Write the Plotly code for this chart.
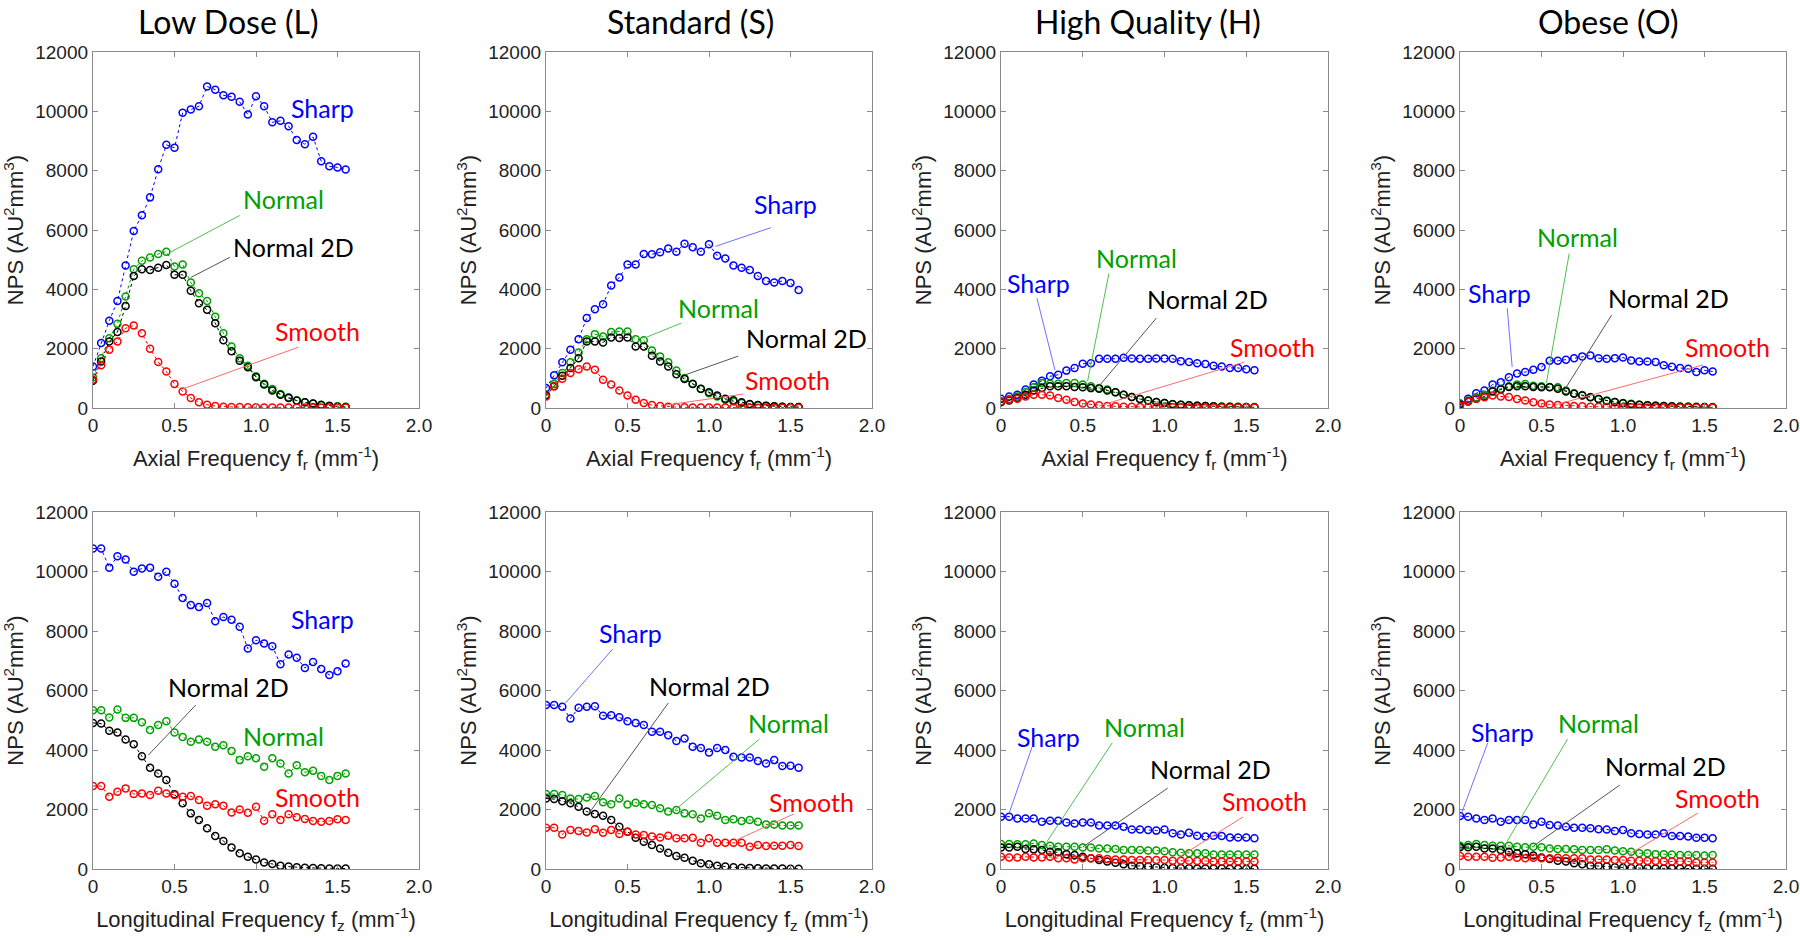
import plotly.graph_objects as go
from plotly.subplots import make_subplots

# frequency samples (mm^-1), shared by every panel
freq = [0.0, 0.05, 0.1, 0.15, 0.2, 0.25, 0.3, 0.35, 0.4, 0.45, 0.5, 0.55, 0.6, 0.65, 0.7, 0.75,
        0.8, 0.85, 0.9, 0.95, 1.0, 1.05, 1.1, 1.15, 1.2, 1.25, 1.3, 1.35, 1.4, 1.45, 1.5, 1.55]

protocols = ["Low Dose (L)", "Standard (S)", "High Quality (H)", "Obese (O)"]
kernels = ["Sharp", "Normal", "Normal 2D", "Smooth"]

# ---- axial NPS (top row) ----
ld_ax_sharp = [1400, 2190, 2940, 3610, 4800, 5970, 6500, 7100, 8050, 8870, 8770, 9950, 10060, 10170, 10840, 10730,
               10540, 10490, 10320, 9890, 10510, 10170, 9630, 9680, 9500, 9030, 8890, 9140, 8320, 8150, 8110, 8040]
ld_ax_normal = [1030, 1680, 2350, 2840, 3760, 4680, 4960, 5070, 5190, 5270, 4770, 4840, 4230, 3870, 3610, 3080,
                2520, 2070, 1680, 1420, 1070, 820, 640, 470, 360, 250, 190, 150, 110, 80, 60, 45]
ld_ax_normal2d = [920, 1570, 2240, 2560, 3440, 4450, 4680, 4650, 4730, 4820, 4490, 4490, 3950, 3530, 3310, 2860,
                  2280, 1910, 1590, 1370, 1040, 790, 590, 450, 340, 250, 190, 150, 100, 70, 45, 35]
ld_ax_smooth = [950, 1440, 1960, 2240, 2690, 2780, 2520, 2000, 1550, 1230, 810, 560, 340, 190, 110, 70,
                45, 35, 30, 25, 25, 20, 20, 20, 20, 20, 15, 15, 15, 15, 15, 15]

st_ax_sharp = [670, 1100, 1540, 1960, 2320, 3030, 3330, 3500, 4130, 4400, 4840, 4840, 5190, 5180, 5250, 5380,
               5270, 5540, 5420, 5270, 5520, 5130, 5040, 4800, 4730, 4650, 4450, 4280, 4230, 4280, 4210, 3980]
st_ax_normal = [450, 810, 1180, 1540, 1870, 2320, 2490, 2410, 2560, 2580, 2580, 2320, 2280, 1940, 1740, 1540,
                1260, 1010, 820, 640, 500, 390, 280, 220, 170, 120, 90, 70, 55, 45, 35, 30]
st_ax_normal2d = [420, 730, 1090, 1350, 1680, 2240, 2240, 2210, 2380, 2360, 2380, 2070, 2070, 1760, 1570, 1400,
                  1140, 980, 810, 650, 530, 420, 310, 260, 190, 135, 100, 80, 55, 45, 35, 30]
st_ax_smooth = [390, 730, 990, 1180, 1310, 1400, 1290, 950, 790, 590, 420, 280, 170, 100, 70, 45,
                30, 25, 20, 20, 15, 15, 15, 15, 10, 10, 10, 10, 10, 10, 10, 10]

hq_ax_sharp = [310, 390, 450, 620, 790, 920, 1070, 1120, 1260, 1350, 1490, 1510, 1660, 1660, 1660, 1690,
               1670, 1660, 1660, 1670, 1670, 1660, 1580, 1550, 1510, 1480, 1420, 1400, 1350, 1350, 1310, 1270]
hq_ax_normal = [220, 300, 390, 540, 700, 840, 820, 820, 840, 840, 790, 730, 670, 620, 530, 450,
                370, 300, 250, 200, 170, 135, 110, 90, 80, 70, 60, 50, 45, 40, 35, 30]
hq_ax_normal2d = [190, 250, 340, 450, 590, 670, 730, 730, 730, 710, 700, 670, 650, 590, 530, 450,
                  370, 300, 250, 200, 170, 130, 110, 90, 75, 65, 55, 45, 40, 35, 30, 25]
hq_ax_smooth = [220, 280, 310, 390, 450, 450, 420, 340, 280, 200, 150, 120, 90, 70, 55, 45,
                40, 35, 30, 30, 25, 25, 25, 20, 20, 20, 20, 20, 20, 20, 20, 20]

ob_ax_sharp = [150, 310, 500, 590, 790, 870, 1040, 1160, 1210, 1290, 1380, 1590, 1590, 1630, 1680, 1740,
               1770, 1680, 1660, 1680, 1700, 1600, 1570, 1570, 1550, 1440, 1390, 1350, 1320, 1210, 1270, 1230]
ob_ax_normal = [130, 250, 360, 450, 580, 650, 730, 790, 810, 750, 730, 710, 700, 590, 500, 440,
                370, 300, 250, 200, 170, 140, 110, 95, 80, 70, 60, 50, 45, 40, 35, 30]
ob_ax_normal2d = [110, 220, 310, 390, 560, 620, 710, 730, 730, 710, 700, 700, 650, 560, 480, 420,
                  360, 300, 240, 200, 160, 130, 110, 90, 75, 65, 55, 45, 40, 35, 30, 25]
ob_ax_smooth = [80, 220, 310, 360, 420, 390, 370, 300, 250, 190, 150, 120, 100, 80, 65, 55,
                45, 40, 35, 30, 25, 25, 20, 20, 20, 20, 20, 20, 20, 20, 20, 20]

# ---- longitudinal NPS (bottom row) ----
ld_lo_sharp = [10770, 10770, 10130, 10510, 10400, 9990, 10100, 10130, 9820, 9990, 9590, 9110, 8870, 8810, 8940, 8330,
               8470, 8380, 8140, 7410, 7690, 7580, 7490, 6880, 7210, 7100, 6760, 6960, 6720, 6520, 6650, 6910]
ld_lo_normal = [5340, 5340, 5090, 5360, 5080, 5080, 4930, 4670, 4840, 4970, 4590, 4440, 4280, 4350, 4280, 4110,
                4160, 3970, 3660, 3790, 3720, 3440, 3720, 3550, 3210, 3490, 3250, 3300, 3130, 2990, 3130, 3210]
ld_lo_normal2d = [4910, 4890, 4650, 4590, 4350, 4190, 3790, 3400, 3210, 2990, 2510, 2210, 1870, 1650, 1370, 1110,
                  940, 720, 530, 410, 320, 220, 170, 110, 80, 55, 45, 35, 25, 20, 20, 15]
ld_lo_smooth = [2790, 2790, 2430, 2600, 2710, 2520, 2540, 2490, 2630, 2540, 2490, 2430, 2450, 2320, 2130, 2180,
                2130, 1900, 2000, 1890, 2090, 1620, 1840, 1650, 1840, 1740, 1680, 1610, 1590, 1610, 1670, 1650]

st_lo_sharp = [5510, 5510, 5450, 5060, 5420, 5450, 5470, 5150, 5170, 5100, 4970, 4910, 4840, 4610, 4610, 4500,
               4300, 4390, 4110, 4070, 3920, 4070, 4000, 3770, 3750, 3750, 3630, 3550, 3660, 3460, 3470, 3400]
st_lo_normal = [2520, 2520, 2490, 2370, 2350, 2400, 2450, 2240, 2180, 2370, 2170, 2230, 2180, 2150, 2040, 1930,
                1980, 1870, 1840, 1700, 1870, 1790, 1650, 1670, 1610, 1650, 1590, 1500, 1500, 1460, 1460, 1460]
st_lo_normal2d = [2370, 2350, 2280, 2210, 2090, 1930, 1850, 1790, 1650, 1420, 1250, 1050, 920, 810, 690, 550,
                  440, 380, 280, 190, 160, 110, 80, 55, 45, 35, 25, 20, 15, 15, 10, 10]
st_lo_smooth = [1390, 1390, 1160, 1310, 1280, 1230, 1340, 1220, 1310, 1180, 1250, 1160, 1140, 1090, 1060, 1120,
                1030, 1030, 1050, 880, 1030, 880, 880, 880, 880, 750, 810, 770, 780, 780, 810, 770]

hq_lo_sharp = [1760, 1760, 1700, 1700, 1700, 1590, 1620, 1620, 1560, 1530, 1560, 1560, 1460, 1460, 1460, 1420,
               1330, 1330, 1310, 1290, 1330, 1200, 1160, 1220, 1120, 1090, 1120, 1110, 1060, 1060, 1060, 1030]
hq_lo_normal = [840, 840, 830, 830, 860, 810, 780, 750, 750, 750, 720, 720, 690, 690, 670, 640,
                640, 640, 620, 620, 600, 560, 550, 530, 530, 530, 490, 490, 490, 490, 490, 490]
hq_lo_normal2d = [720, 720, 750, 670, 660, 640, 580, 560, 500, 470, 410, 360, 300, 250, 210, 160,
                  110, 100, 80, 55, 45, 35, 30, 25, 20, 20, 15, 15, 10, 10, 10, 10]
hq_lo_smooth = [410, 390, 390, 410, 390, 390, 410, 360, 360, 320, 360, 360, 360, 340, 320, 320,
                300, 300, 300, 300, 300, 280, 280, 280, 270, 270, 250, 250, 250, 250, 250, 250]

ob_lo_sharp = [1780, 1760, 1700, 1650, 1700, 1590, 1650, 1650, 1650, 1500, 1590, 1480, 1460, 1420, 1390, 1390,
               1370, 1340, 1330, 1280, 1310, 1200, 1180, 1160, 1160, 1200, 1110, 1110, 1090, 1050, 1050, 1030]
ob_lo_normal = [780, 810, 840, 810, 780, 780, 780, 750, 730, 750, 730, 690, 670, 670, 660, 640,
                640, 640, 660, 620, 600, 580, 530, 530, 500, 500, 490, 470, 470, 470, 450, 470]
ob_lo_normal2d = [730, 730, 750, 690, 690, 640, 580, 530, 500, 450, 390, 340, 280, 250, 190, 160,
                  110, 100, 80, 55, 45, 35, 30, 25, 20, 20, 15, 15, 10, 10, 10, 10]
ob_lo_smooth = [440, 410, 410, 410, 380, 390, 410, 380, 360, 380, 360, 360, 380, 360, 360, 360,
                320, 320, 320, 300, 300, 280, 280, 270, 270, 250, 250, 250, 250, 220, 220, 220]

y_ticks = [0, 2000, 4000, 6000, 8000, 10000, 12000]
y_tick_text = ["0", "2000", "4000", "6000", "8000", "10000", "12000"]
x_ticks = [0, 0.5, 1.0, 1.5, 2.0]
x_tick_text = ["0", "0.5", "1.0", "1.5", "2.0"]

panels = {
    (1, 1): [ld_ax_sharp, ld_ax_normal, ld_ax_normal2d, ld_ax_smooth],
    (1, 2): [st_ax_sharp, st_ax_normal, st_ax_normal2d, st_ax_smooth],
    (1, 3): [hq_ax_sharp, hq_ax_normal, hq_ax_normal2d, hq_ax_smooth],
    (1, 4): [ob_ax_sharp, ob_ax_normal, ob_ax_normal2d, ob_ax_smooth],
    (2, 1): [ld_lo_sharp, ld_lo_normal, ld_lo_normal2d, ld_lo_smooth],
    (2, 2): [st_lo_sharp, st_lo_normal, st_lo_normal2d, st_lo_smooth],
    (2, 3): [hq_lo_sharp, hq_lo_normal, hq_lo_normal2d, hq_lo_smooth],
    (2, 4): [ob_lo_sharp, ob_lo_normal, ob_lo_normal2d, ob_lo_smooth],
}

colors = ["#0000FF", "#00A000", "#000000", "#FF0000"]
leader_colors = ["#7070FF", "#50C050", "#555555", "#FF6A6A"]

# label placement per panel: (text x, text y, leader line or None) in data units
label_pos = {
    (1, 1): [(1.41, 10100, None), (1.17, 7060, (0.90, 6490, 0.47, 5240)),
             (1.23, 5410, (0.84, 5080, 0.60, 4400)), (1.38, 2590, (1.26, 2050, 0.55, 640))],
    (1, 2): [(1.47, 6860, (1.38, 6080, 1.04, 5450)), (1.06, 3360, (0.83, 2860, 0.60, 2350)),
             (1.60, 2350, (1.18, 1750, 0.85, 1110)), (1.48, 940, (1.21, 470, 0.74, 100))],
    (1, 3): [(0.23, 4200, (0.22, 3700, 0.33, 1280)), (0.83, 5040, (0.66, 4540, 0.53, 910)),
             (1.26, 3660, (0.95, 3030, 0.60, 740)), (1.66, 2050, (1.49, 1550, 0.60, 70))],
    (1, 4): [(0.24, 3870, (0.29, 3360, 0.32, 1380)), (0.72, 5750, (0.67, 5210, 0.53, 840)),
             (1.28, 3700, (0.93, 3130, 0.64, 600)), (1.64, 2050, (1.49, 1450, 0.58, 100))],
    (2, 1): [(1.41, 8400, None), (1.17, 4470, None),
             (0.83, 6120, (0.63, 5510, 0.34, 3830)), (1.38, 2420, None)],
    (2, 2): [(0.52, 7930, (0.41, 7400, 0.12, 5580)), (1.49, 4910, (1.31, 4370, 0.79, 1980)),
             (1.00, 6150, (0.75, 5580, 0.27, 1920)), (1.63, 2250, (1.52, 1850, 1.17, 980))],
    (2, 3): [(0.29, 4440, (0.19, 4100, 0.05, 1880)), (0.88, 4770, (0.68, 4240, 0.28, 910)),
             (1.28, 3360, (1.02, 2720, 0.50, 740)), (1.61, 2290, (1.48, 1750, 1.08, 370))],
    (2, 4): [(0.26, 4600, (0.17, 4240, 0.01, 1880)), (0.85, 4910, (0.66, 4370, 0.29, 940)),
             (1.26, 3460, (0.98, 2820, 0.45, 770)), (1.58, 2390, (1.46, 1880, 1.03, 470))],
}

W, H = 1800, 940
col_px = [(93, 419), (546, 872), (1001, 1328), (1460, 1786)]
row_px = [(52, 408), (512, 869)]
title_px = [228, 690, 1148, 1608]

fig = make_subplots(rows=2, cols=4)

text_font = "Lato, 'Open Sans', sans-serif"
tick_font = "'Liberation Sans', Arial, sans-serif"

for (r, c), series in panels.items():
    for k, ys in enumerate(series):
        fig.add_trace(go.Scatter(
            x=freq, y=ys, mode="lines+markers", name=kernels[k], showlegend=False,
            line=dict(color=colors[k], width=1, dash="dot"),
            marker=dict(symbol="circle-open", size=7, color=colors[k], line=dict(width=1.5)),
        ), row=r, col=c)
    for k, (tx, ty, leader) in enumerate(label_pos[(r, c)]):
        if leader:
            fig.add_shape(type="line", x0=leader[0], y0=leader[1], x1=leader[2], y1=leader[3],
                          line=dict(color=leader_colors[k], width=1), row=r, col=c)
        fig.add_annotation(x=tx, y=ty, text=kernels[k], showarrow=False,
                           font=dict(family=text_font, size=25, color=colors[k]), row=r, col=c)

    x0, x1 = col_px[c - 1]
    y0, y1 = row_px[r - 1]
    xtitle = "Axial Frequency f<sub>r</sub> (mm<sup>-1</sup>)" if r == 1 else \
        "Longitudinal Frequency f<sub>z</sub> (mm<sup>-1</sup>)"
    fig.update_xaxes(domain=[x0 / W, x1 / W], range=[0, 2], tickvals=x_ticks, ticktext=x_tick_text,
                     title=dict(text=xtitle, standoff=15, font=dict(size=22, family=tick_font, color="#222")),
                     row=r, col=c)
    fig.update_yaxes(domain=[1 - y1 / H, 1 - y0 / H], range=[0, 12000], tickvals=y_ticks, ticktext=y_tick_text,
                     title=dict(text="NPS (AU<sup>2</sup>mm<sup>3</sup>)", standoff=5,
                                font=dict(size=22, family=tick_font, color="#222")),
                     row=r, col=c)

fig.update_xaxes(showgrid=False, zeroline=False, showline=True, mirror="ticks", linecolor="#8a8a8a",
                 linewidth=1.3, ticks="inside", ticklen=5, tickcolor="#8a8a8a", automargin=False,
                 tickfont=dict(size=19, family=tick_font, color="#222"))
fig.update_yaxes(showgrid=False, zeroline=False, showline=True, mirror="ticks", linecolor="#8a8a8a",
                 linewidth=1.3, ticks="inside", ticklen=5, tickcolor="#8a8a8a", automargin=False,
                 tickfont=dict(size=19, family=tick_font, color="#222"))

for i, name in enumerate(protocols):
    fig.add_annotation(x=title_px[i] / W, y=1, xref="paper", yref="paper", text=name,
                       showarrow=False, xanchor="center", yanchor="top",
                       font=dict(family=text_font, size=32, color="#000"))

fig.update_layout(width=W, height=H, margin=dict(l=0, r=0, t=0, b=0),
                  plot_bgcolor="white", paper_bgcolor="white")

# drop the browser's default page margin so the figure sits at the window corner
fig.write_html("out.html", config={"displayModeBar": False},
               post_script="document.body.style.margin='0';")
